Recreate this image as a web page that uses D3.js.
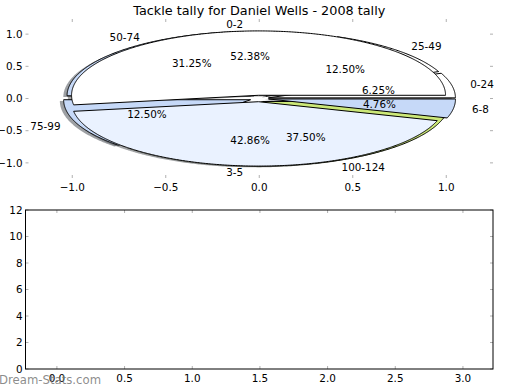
<!DOCTYPE html>
<html><head><meta charset="utf-8">
<script src="https://cdn.jsdelivr.net/npm/d3@7"></script>
<style>
html,body{margin:0;padding:0;background:#fff;}
text{font-family:"DejaVu Sans",sans-serif;}
</style></head>
<body><svg id="c" width="520" height="390"></svg>
<script>
// ---- data ----
const title = "Tackle tally for Daniel Wells - 2008 tally";
const labelsB = ["0-24","25-49","50-74","75-99","100-124"];
const valuesB = [1, 2, 5, 2, 6];
const colorsB = ["#ffffff","#ffffff","#c6d9f8","#c6d9f8","#cce878"];
const labelsA = ["0-2","3-5","6-8"];
const valuesA = [11, 9, 1];
const colorsA = ["#ffffff","#eaf2ff","#c6d9f8"];
const explode = 0.05;
const pieXTicks = [-1.0, -0.5, 0.0, 0.5, 1.0];
const pieYTicks = [-1.0, -0.5, 0.0, 0.5, 1.0];
const barXTicks = [0.0, 0.5, 1.0, 1.5, 2.0, 2.5, 3.0];
const barYTicks = [0, 2, 4, 6, 8, 10, 12];
const watermark = "Dream-Stats.com";

const svg = d3.select("#c");
const FS = 10.4;

// ---- scales ----
const L = 25.5, R = 493;
const x1 = d3.scaleLinear().domain([-1.25, 1.25]).range([L, R]);
const y1 = d3.scaleLinear().domain([-1.235, 1.235]).range([178, 19]);
const x2 = d3.scaleLinear().domain([-0.232, 3.222]).range([L, R]);
const y2 = d3.scaleLinear().domain([0, 12]).range([369, 210]);

// title
svg.append("text").attr("x", (L+R)/2).attr("y", 14.5).attr("text-anchor","middle")
  .attr("font-size", 12.8).text(title);

// ---- ticks helper (matplotlib-style inward ticks on all sides) ----
function ticks(xs, ys, xt, yt, fmtX, fmtY, top, bottom) {
  const g = svg.append("g");
  const tl = 3;
  xt.forEach(v => {
    const px = xs(v);
    g.append("line").attr("x1",px).attr("x2",px).attr("y1",top).attr("y2",top+tl).attr("stroke","#b0b0b0");
    g.append("line").attr("x1",px).attr("x2",px).attr("y1",bottom).attr("y2",bottom-tl).attr("stroke","#b0b0b0");
    g.append("text").attr("x",px).attr("y",bottom+9).attr("dy","0.35em").attr("text-anchor","middle")
      .attr("font-size",FS).text(fmtX(v));
  });
  yt.forEach(v => {
    const py = ys(v);
    g.append("line").attr("x1",L).attr("x2",L+tl).attr("y1",py).attr("y2",py).attr("stroke","#b0b0b0");
    g.append("line").attr("x1",R).attr("x2",R-tl).attr("y1",py).attr("y2",py).attr("stroke","#b0b0b0");
    g.append("text").attr("x",L-3).attr("y",py).attr("dy","0.35em").attr("text-anchor","end")
      .attr("font-size",FS).text(fmtY(v));
  });
}
const f1 = v => d3.format(".1f")(v).replace("-", "\u2212");
ticks(x1, y1, pieXTicks, pieYTicks, f1, f1, 19, 178);

// ---- pies ----
const line = d3.line().x(d => x1(d[0])).y(d => y1(d[1]));
const pieGen = d3.pie().sort(null).value(d => d).startAngle(0).endAngle(2*Math.PI);
function wedge(a0, a1, cx, cy, r) {
  const pts = [[cx, cy]];
  const n = Math.max(2, Math.ceil((a1 - a0) / (Math.PI/360)));
  for (let i = 0; i <= n; i++) {
    const a = a0 + (a1 - a0) * i / n;
    pts.push([cx + r*Math.cos(a), cy + r*Math.sin(a)]);
  }
  return line(pts) + "Z";
}
function build(values, labels, colors) {
  const tot = d3.sum(values);
  return pieGen(values).map((p, i) => {
    const mid = (p.startAngle + p.endAngle)/2;
    return {a0: p.startAngle, a1: p.endAngle, mid,
      cx: explode*Math.cos(mid), cy: explode*Math.sin(mid),
      color: colors[i], label: labels[i], pct: d3.format(".2f")(100*values[i]/tot) + "%"};
  });
}
const wB = build(valuesB, labelsB, colorsB);
const wA = build(valuesA, labelsA, colorsA);
const gp = svg.append("g");
// shadows first (below all wedges)
[...wB, ...wA].forEach(w => {
  const c = d3.rgb(w.color);
  gp.append("path").attr("d", wedge(w.a0, w.a1, w.cx - 0.02, w.cy - 0.02, 1))
    .attr("fill", d3.rgb(c.r*0.3, c.g*0.3, c.b*0.3)).attr("fill-opacity", 0.5).attr("stroke","none");
});
[...wB, ...wA].forEach(w => {
  gp.append("path").attr("d", wedge(w.a0, w.a1, w.cx, w.cy, 1))
    .attr("fill", w.color).attr("stroke", "#000").attr("stroke-width", 1)
    .attr("stroke-linejoin", "round");
});
// texts
[...wB, ...wA].forEach(w => {
  const lx = w.cx + 1.1*Math.cos(w.mid), ly = w.cy + 1.1*Math.sin(w.mid);
  gp.append("text").attr("x", x1(lx)).attr("y", y1(ly)).attr("dy","0.35em")
    .attr("text-anchor", lx > 0 ? "start" : "end").attr("font-size", FS).text(w.label);
  const px = w.cx + 0.6*Math.cos(w.mid), py = w.cy + 0.6*Math.sin(w.mid);
  gp.append("text").attr("x", x1(px)).attr("y", y1(py)).attr("dy","0.35em")
    .attr("text-anchor", "middle").attr("font-size", FS).text(w.pct);
});

// ---- bottom (empty) axes ----
ticks(x2, y2, barXTicks, barYTicks, v => d3.format(".1f")(v), v => String(v), 210, 369);
svg.append("rect").attr("x", L).attr("y", 210).attr("width", R-L).attr("height", 159)
  .attr("fill","none").attr("stroke","#000").attr("stroke-width",1);

// watermark
svg.append("text").attr("x", -1).attr("y", 380).attr("dy","0.35em").attr("font-size", 11.7)
  .attr("fill", "#777").attr("fill-opacity", 0.85).text(watermark);
</script></body></html>
